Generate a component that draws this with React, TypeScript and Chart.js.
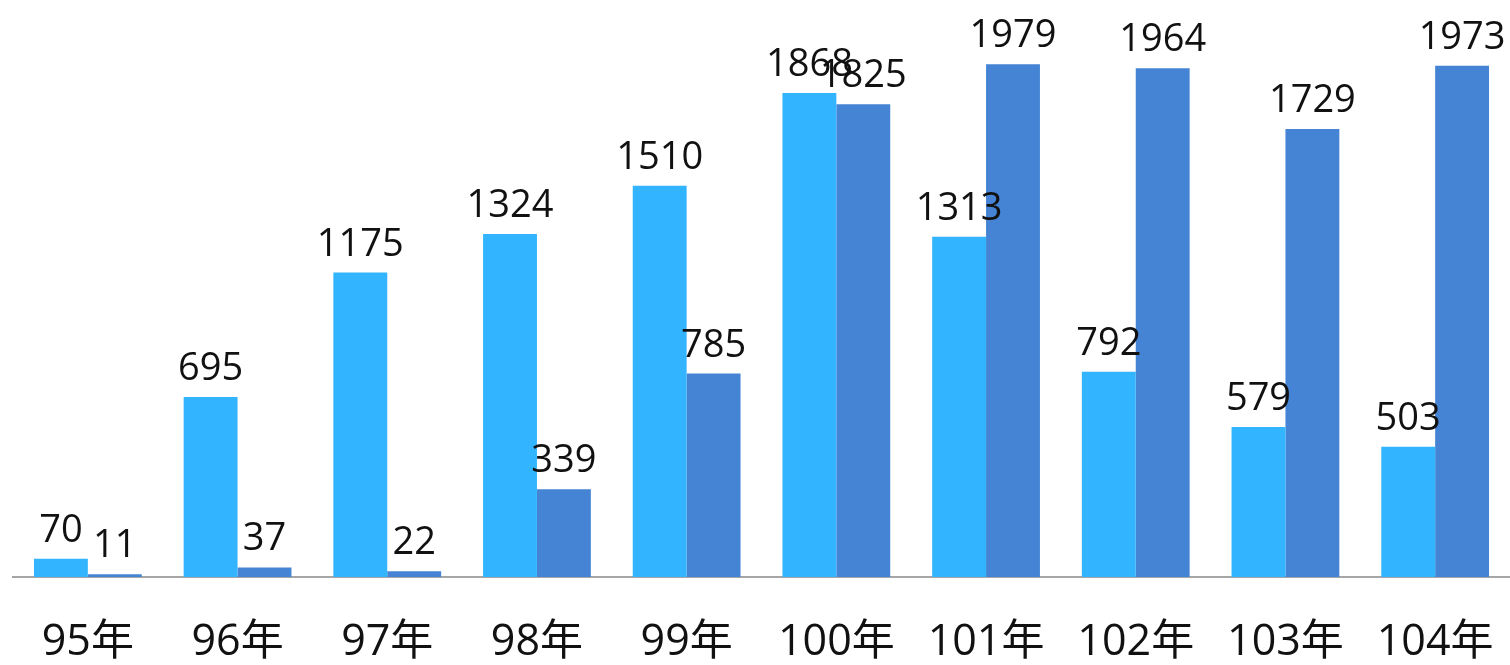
import React, { useEffect, useRef } from "react";
import { Chart, registerables } from "chart.js";

Chart.register(...registerables);

const categories = ["95年", "96年", "97年", "98年", "99年", "100年", "101年", "102年", "103年", "104年"];
const seriesA = [70, 695, 1175, 1324, 1510, 1868, 1313, 792, 579, 503];
const seriesB = [11, 37, 22, 339, 785, 1825, 1979, 1964, 1729, 1973];

const FONT = "'Open Sans', 'Noto Sans CJK TC', sans-serif";

const valueLabels = {
  id: "valueLabels",
  afterDatasetsDraw(chart: any) {
    const ctx = chart.ctx;
    ctx.save();
    ctx.font = `38px ${FONT}`;
    ctx.fillStyle = "#111111";
    ctx.textAlign = "center";
    ctx.textBaseline = "alphabetic";
    chart.data.datasets.forEach((ds: any, di: number) => {
      const meta = chart.getDatasetMeta(di);
      meta.data.forEach((bar: any, i: number) => {
        ctx.fillText(String(ds.data[i]), bar.x, bar.y - 17);
      });
    });
    ctx.restore();
  },
};

export default function App() {
  const ref = useRef<HTMLCanvasElement | null>(null);
  useEffect(() => {
    if (!ref.current) return;
    const chart = new Chart(ref.current, {
      type: "bar",
      data: {
        labels: categories,
        datasets: [
          { label: "A", data: seriesA, backgroundColor: "#33B4FE", barPercentage: 1, categoryPercentage: 0.72 },
          { label: "B", data: seriesB, backgroundColor: "#4584D4", barPercentage: 1, categoryPercentage: 0.72 },
        ],
      },
      options: {
        responsive: false,
        animation: false,
        layout: { padding: { left: 13, right: -5, top: 7, bottom: 0 } },
        plugins: { legend: { display: false }, tooltip: { enabled: false } },
        scales: {
          x: {
            grid: { display: true, drawOnChartArea: false, drawTicks: true, tickLength: 40, tickColor: "rgba(0,0,0,0)" },
            border: { display: true, color: "#A6A6A6", width: 2 },
            ticks: { color: "#111111", font: { family: FONT, size: 43 }, padding: 0, maxRotation: 0, autoSkip: false },
            afterFit: (scale: any) => { scale.height = 88; },
          },
          y: { display: false, min: 0, max: 2200 },
        },
      },
      plugins: [valueLabels],
    });
    return () => chart.destroy();
  }, []);
  return (
    <div style={{ position: "absolute", left: 0, top: 0, width: 1510, height: 665, background: "#fff" }}>
      <canvas ref={ref} width={1510} height={665} style={{ display: "block" }} />
    </div>
  );
}
